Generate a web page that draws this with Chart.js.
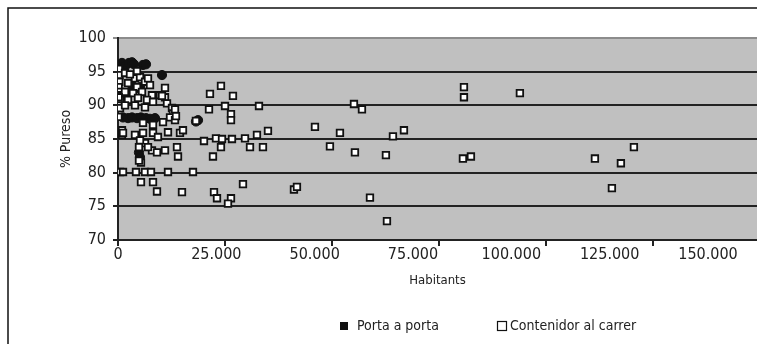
<!DOCTYPE html>
<html><head><meta charset="utf-8">
<script src="https://cdn.jsdelivr.net/npm/chart.js@4.4.1/dist/chart.umd.min.js"></script>
<style>html,body{margin:0;padding:0;background:#fff}#wrap{width:757px;height:344px;position:relative}</style>
</head><body><div id="wrap"><canvas id="c" width="757" height="344"></canvas></div>
<script>
// ---- data ----
const seriesNames = ['Porta a porta', 'Contenidor al carrer'];
const portaX = [200,470,930,1640,2570,3270,3740,5840,6540,10280,100,3270,3740,5140,1170,2340,3270,4440,5370,6540,7480,8640,18220,18700,4900,5140,100];
const portaY = [96.0,95.2,96.3,95.8,96.3,96.4,96.1,96.0,96.1,94.5,94.0,93.0,92.3,92.7,88.2,88.1,88.2,88.1,88.2,88.1,88.0,88.1,87.6,87.8,83.0,82.3,90.8];
const contX = [200,300,300,150,470,930,470,100,470,100,930,930,470,1170,
  1640,3970,5140,6310,7010,7480,2340,4440,1640,3500,5610,7940,9810,10980,150,2340,4670,6770,8180,1640,3970,6310,10280,11450,12610,12850,12150,5840,8180,10510,3970,5840,8180,9340,11680,1170,6310,7940,9110,10980,5370,14020,14480,15180,13320,4200,6310,7710,11680,17520,5370,8180,9110,14950,10980,7010,5140,4900,4900,13780,13320,13550,4440,2800,18200,
  24060,21490,26860,21260,25000,32940,26400,26400,20090,22890,24300,24060,26630,29670,32470,30840,33870,35040,22190,46020,49520,51860,55360,55130,57000,62600,64240,66810,80830,80830,80590,82460,29200,22430,23130,26400,25700,41110,41810,58870,62840,93900,120540,111430,117500,115400];
const contY = [95.4,94.5,93.5,92.7,92.0,91.5,90.8,90.0,89.6,88.3,86.3,85.6,80.1,80.1,
  94.8,94.0,94.2,93.5,94.0,93.0,93.3,92.7,92.0,91.8,92.0,91.5,91.5,91.2,91.2,90.8,91.1,90.8,90.5,90.0,90.0,89.7,91.4,90.3,89.6,88.8,88.2,87.4,87.1,87.5,85.6,85.9,85.9,85.3,86.0,85.9,84.4,83.3,83.0,83.3,81.5,82.4,85.9,86.3,87.8,80.1,80.1,80.1,80.1,80.1,78.6,78.6,77.2,77.1,92.6,83.8,84.8,83.8,81.8,83.8,89.4,88.4,95.1,94.6,87.7,
  92.9,91.7,91.4,89.4,89.9,89.9,88.7,87.8,84.7,85.1,85.0,83.8,85.0,85.1,85.6,83.8,83.8,86.2,82.4,86.8,83.9,85.9,83.0,90.2,89.4,82.6,85.4,86.3,92.7,91.2,82.1,82.4,78.3,77.1,76.2,76.2,75.4,77.5,77.9,76.3,72.8,91.8,83.8,82.1,81.4,77.7];
const xTickValues = [0,25000,50000,75000,100000,125000,150000];
const yTickValues = [70,75,80,85,90,95,100];
const xAxisTitle = 'Habitants';
const yAxisTitle = '% Pureso';

// ---- styling ----
const FONT = "'Liberation Sans Narrow','DejaVu Sans Condensed',sans-serif";
const INK = '#222';
const toPts = (xs, ys) => xs.map((x, i) => ({x: x, y: ys[i]}));
const fmt = v => String(v).replace(/\B(?=(\d{3})+(?!\d))/g, '.');

const backgroundPlugin = {
  id: 'bg',
  beforeDraw(chart) {
    const {ctx, chartArea: a, width, height} = chart;
    ctx.save();
    ctx.fillStyle = '#fff';
    ctx.fillRect(0, 0, width, height);
    ctx.fillStyle = '#c0c0c0';
    ctx.fillRect(a.left, a.top, a.right - a.left, a.bottom - a.top);
    ctx.strokeStyle = '#111';
    ctx.lineWidth = 1.5;
    ctx.beginPath();
    ctx.moveTo(8, height);
    ctx.lineTo(8, 8);
    ctx.lineTo(width, 8);
    ctx.stroke();
    ctx.restore();
  }
};

const legendPlugin = {
  id: 'customLegend',
  afterDraw(chart) {
    const ctx = chart.ctx;
    const ds = chart.data.datasets;
    ctx.save();
    ctx.font = '14px ' + FONT;
    ctx.textBaseline = 'middle';
    ctx.textAlign = 'left';
    const y = 326;
    ctx.fillStyle = ds[0].backgroundColor;
    ctx.fillRect(340, 322, 8, 8);
    ctx.fillStyle = INK;
    ctx.fillText(ds[0].label, 357, y);
    ctx.fillStyle = ds[1].backgroundColor;
    ctx.strokeStyle = ds[1].borderColor;
    ctx.lineWidth = 1.2;
    ctx.fillRect(497, 321, 9, 9);
    ctx.strokeRect(497.5, 321.5, 9, 9);
    ctx.fillStyle = INK;
    ctx.fillText(ds[1].label, 510, y);
    ctx.restore();
  }
};

new Chart(document.getElementById('c'), {
  type: 'scatter',
  data: {
    datasets: [
      {label: seriesNames[0], data: toPts(portaX, portaY), pointStyle: 'circle', pointRadius: 4.6,
       backgroundColor: '#111', borderColor: '#111', borderWidth: 1, order: 2},
      {label: seriesNames[1], data: toPts(contX, contY), pointStyle: 'rect', pointRadius: 4.6,
       backgroundColor: '#fff', borderColor: '#111', borderWidth: 1.8, order: 1}
    ]
  },
  plugins: [backgroundPlugin, legendPlugin],
  options: {
    responsive: false,
    animation: false,
    devicePixelRatio: 1,
    layout: {autoPadding: false, padding: {top: 38, left: 0, right: 0, bottom: 0}},
    plugins: {legend: {display: false}, tooltip: {enabled: false}},
    scales: {
      x: {
        type: 'linear', position: 'bottom', min: 0, max: 149300, weight: 0,
        afterBuildTicks: s => { s.ticks = xTickValues.filter(v => v <= 149300).map(v => ({value: v})); },
        afterFit: s => { s.height = 4; s.paddingLeft = 0; s.paddingRight = 0; },
        ticks: {display: false},
        grid: {display: true, drawOnChartArea: false, drawTicks: true, tickLength: 6, color: INK, lineWidth: 2},
        border: {display: true, color: INK, width: 2}
      },
      xl: {
        type: 'linear', position: 'bottom', min: 0, max: 162458, weight: 1,
        afterBuildTicks: s => { s.ticks = xTickValues.map(v => ({value: v})); },
        afterFit: s => { s.height = 100; s.paddingLeft = 0; s.paddingRight = 0; },
        ticks: {padding: 1, color: INK, font: {family: FONT, size: 16}, maxRotation: 0, autoSkip: false,
                callback: v => fmt(v)},
        grid: {display: false, drawTicks: false},
        border: {display: false},
        title: {display: true, text: xAxisTitle, color: INK, font: {family: FONT, size: 13}, padding: {top: 0, bottom: 56}}
      },
      y: {
        type: 'linear', position: 'left', min: 70, max: 100,
        afterBuildTicks: s => { s.ticks = yTickValues.map(v => ({value: v})); },
        afterFit: s => { s.width = 118; },
        ticks: {padding: 7, color: INK, font: {family: FONT, size: 16}},
        grid: {color: c => (c.tick && c.tick.value === 100) ? '#8c8c8c' : INK, lineWidth: 2, tickLength: 5, drawTicks: true},
        border: {display: true, color: INK, width: 2},
        title: {display: true, text: yAxisTitle, color: INK, font: {family: FONT, size: 14}, padding: {top: 58, bottom: 0}}
      }
    }
  }
});
</script></body></html>
